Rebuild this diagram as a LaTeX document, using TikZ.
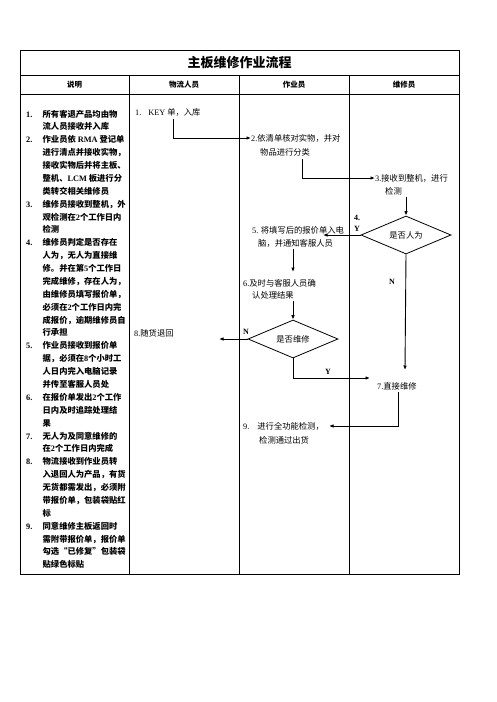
\documentclass[tikz,border=0pt]{standalone}
\usepackage{fontspec}
\setmainfont{Noto Sans CJK SC}
\newfontfamily\latf{Liberation Serif}
\newcommand\lt[1]{{\latf #1}}
\newcommand\nb[1]{\makebox[16.5pt][l]{\lt{#1}}}
\usetikzlibrary{shapes.geometric,arrows.meta}
\begin{document}
\begin{tikzpicture}[x=1pt,y=-1pt,
  tline/.style={line width=0.9pt},
  arr/.style={line width=0.9pt,-{Latex[length=4.5pt,width=3.6pt]}},
  txt/.style={anchor=west,inner sep=0pt,font=\fontsize{8.3}{10}\selectfont},
  dia/.style={diamond,draw,line width=0.8pt,aspect=2.37,minimum width=90pt,minimum height=38pt,inner sep=0pt,font=\fontsize{8.3}{10}\selectfont},
  hdr/.style={font=\bfseries\fontsize{7.5}{9}\selectfont,inner sep=0pt},
  lbl/.style={inner sep=0pt,font=\latf\bfseries\fontsize{8}{9}\selectfont}]
\fill[white] (0,0) rectangle (496,702);
\path[use as bounding box] (0,0) rectangle (496,702);
% table
\draw[tline] (20,50) rectangle (459,574);
\draw[tline] (20,75) -- (459,75);
\draw[tline] (20,94) -- (459,94);
\draw[tline] (129,75) -- (129,574);
\draw[tline] (239,75) -- (239,574);
\draw[tline] (349,75) -- (349,574);
\node[font=\bfseries\fontsize{13}{15}\selectfont,inner sep=0pt] (title) at (239.5,63) {主板维修作业流程};
\node[hdr] (h1) at (74.5,85) {说明};
\node[hdr] (h2) at (184,85) {物流人员};
\node[hdr] (h3) at (294,85) {作业员};
\node[hdr] (h4) at (404,85) {维修员};
% description column
\node[anchor=north west,inner sep=0pt,
      font=\bfseries\fontsize{8.3}{12.88}\selectfont] (desc) at (26,107.8) {%
\begin{tabular}{@{}l@{}l@{}}
\nb{1.} & 所有客退产品均由物\\
 & 流人员接收并入库\\
\nb{2.} & 作业员依 \lt{RMA} 登记单\\
 & 进行清点并接收实物，\\
 & 接收实物后并将主板、\\
 & 整机、\lt{LCM} 板进行分\\
 & 类转交相关维修员\\
\nb{3.} & 维修员接收到整机，外\\
 & 观检测在\lt{2}个工作日内\\
 & 检测\\
\nb{4.} & 维修员判定是否存在\\
 & 人为，无人为直接维\\
 & 修。并在第\lt{5}个工作日\\
 & 完成维修，存在人为，\\
 & 由维修员填写报价单，\\
 & 必须在\lt{2}个工作日内完\\
 & 成报价，逾期维修员自\\
 & 行承担\\
\nb{5.} & 作业员接收到报价单\\
 & 据，必须在\lt{8}个小时工\\
 & 人日内完入电脑记录\\
 & 并传至客服人员处\\
\nb{6.} & 在报价单发出\lt{2}个工作\\
 & 日内及时追踪处理结\\
 & 果\\
\nb{7.} & 无人为及同意维修的\\
 & 在\lt{2}个工作日内完成\\
\nb{8.} & 物流接收到作业员转\\
 & 入退回人为产品，有货\\
 & 无货都需发出，必须附\\
 & 带报价单，包装袋贴红\\
 & 标\\
\nb{9.} & 同意维修主板返回时\\
 & 需附带报价单，报价单\\
 & 勾选“已修复”包装袋\\
 & 贴绿色标贴
\end{tabular}};
% flow
\node[txt] (k1) at (135,112) {\lt{1.}\hspace{7pt}\lt{KEY} 单，入库};
\coordinate (k1s) at (173,119);
\node[txt] (s2) at (251,138) {\lt{2.}依清单核对实物，并对};
\node[txt] (s2b) at (260,152) {物品进行分类};
\draw[arr] (k1s) |- (s2.west);
\coordinate (s2s) at (302,159);
\node[txt] (s3) at (375,178) {\lt{3.}接收到整机，进行};
\node[txt] (s3b) at (385,191) {检测};
\draw[arr] (s2s) |- (s3.west);
\node[dia] (d1) at (406,235) {是否人为};
\coordinate (s3s) at (406,197);
\draw[arr] (s3s) -- (d1.north);
\node[lbl] (l4) at (357,218) {4.};
\node[lbl] (ly1) at (357,229) {Y};
\node[txt] (s5) at (252,230) {\lt{5.} 将填写后的报价单入电};
\node[txt] (s5b) at (258,243) {脑，并通知客服人员};
\coordinate (t5) at (323,235);
\draw[arr] (d1.west) -- (t5);
\coordinate (s5s) at (293,249);
\coordinate (t6) at (293,272);
\draw[arr] (s5s) -- (t6);
\node[txt] (s6) at (243,283) {\lt{6.}及时与客服人员确};
\node[txt] (s6b) at (252,295) {认处理结果};
\node[dia] (d2) at (293,339) {是否维修};
\coordinate (s6s) at (293,301);
\draw[arr] (s6s) -- (d2.north);
\node[lbl] (ln2) at (246,332) {N};
\node[txt] (s8) at (134,333) {\lt{8.}随货退回};
\coordinate (t8) at (219,339);
\draw[arr] (d2.west) -- (t8);
\node[txt] (s7) at (377,386) {\lt{7.}直接维修};
\coordinate (t7) at (370,378);
\draw[arr] (d2.south) |- (t7);
\node[lbl] (ly2) at (328,372) {Y};
\coordinate (t7b) at (405,370);
\draw[arr] (d1.south) -- (t7b);
\node[lbl] (ln1) at (392,282) {N};
\node[txt] (s9) at (243,426) {\lt{9.}\hspace{8pt}进行全功能检测，};
\node[txt] (s9b) at (259,440) {检测通过出货};
\coordinate (s7s) at (398,392);
\coordinate (t9) at (329,426);
\draw[arr] (s7s) |- (t9);
\end{tikzpicture}
\end{document}
